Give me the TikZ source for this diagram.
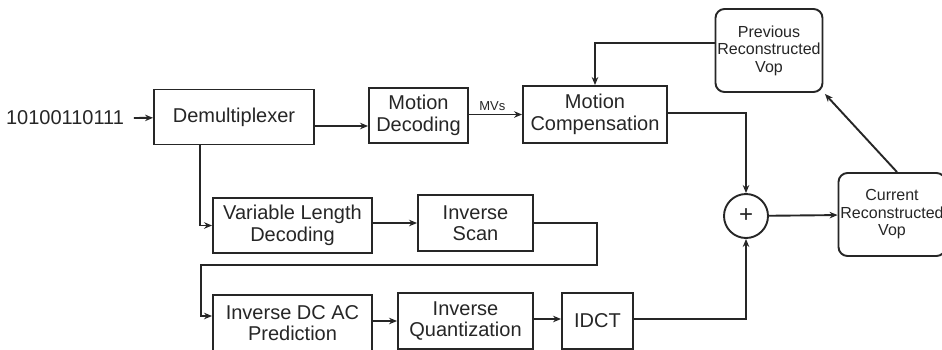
\documentclass[tikz,border=0pt]{standalone}
\usepackage{fontspec}
\setmainfont{Liberation Sans}
\usetikzlibrary{positioning,arrows.meta,calc}

\begin{document}
\begin{tikzpicture}[x=1pt, y=-1pt, line width=1.9pt, color=black!85,
  font=\fontsize{20}{21.5}\selectfont,
  blk/.style={draw, align=center, inner sep=1pt, minimum height=55pt},
  vop/.style={draw, rounded corners=9pt, align=center, inner sep=1pt, minimum width=107pt, minimum height=83pt, font=\fontsize{16}{17.5}\selectfont},
  tr/.style={-{Stealth[length=8pt, width=6.5pt]}}]
\useasboundingbox[fill=white] (0,0) rectangle (942,349);
% top row
\node[inner sep=0pt] (bits) at (65,118) {10100110111};
\node[blk, minimum width=160pt] (demux) at (234,117) {Demultiplexer};
\node[blk, minimum width=99pt] (mdec) at (418.5,115.5) {Motion\\Decoding};
\node[blk, minimum width=144pt, minimum height=57pt] (mcomp) at (595,114.5) {Motion\\Compensation};
\node[vop] (prev) at (769,50.5) {Previous\\Reconstructed\\Vop};
\node[draw, circle, minimum size=44pt, inner sep=0pt, font=\fontsize{24}{24}\selectfont] (plus) at (746,216) {+};
\node[vop] (curr) at (892,214.5) {Current\\Reconstructed\\Vop};
% middle and bottom rows
\node[blk, minimum width=159pt] (vld) at (292.5,225.5) {Variable Length\\Decoding};
\node[blk, minimum width=115pt, minimum height=56pt] (iscan) at (475.5,223) {Inverse\\Scan};
\node[blk, minimum width=159pt, minimum height=56pt] (idcac) at (292.5,323) {Inverse DC AC\\Prediction};
\node[blk, minimum width=135pt, minimum height=56pt] (invq) at (465.5,321) {Inverse\\Quantization};
\node[blk, minimum width=71pt, minimum height=56pt] (idct) at (597.5,321) {IDCT};
% connectors
\coordinate (dout) at ([yshift=-9pt]demux.east);
\coordinate (vout) at ([yshift=2.5pt]vld.east);
\coordinate (pout) at ([yshift=2pt]idcac.east);
\coordinate (qout) at ([yshift=2pt]invq.east);
\coordinate (lpr) at (597,265);
\coordinate (lpl) at (201,265);
\draw[tr] ([xshift=9pt]bits.east) -- (demux);
\draw[tr] (dout) -- (mdec.west |- dout);
\draw[tr] (mdec.east |- mcomp.west) -- node[above, pos=0.44, font=\fontsize{13}{14}\selectfont]{MVs} (mcomp.west);
\draw[tr] ([yshift=7.5pt]prev.west) -| (mcomp.north);
\draw[tr] ([yshift=1.5pt]mcomp.east) -| (plus.north);
\draw[tr] (plus) -- (curr);
\draw[tr] ([xshift=5pt]curr.north) -- ([xshift=1.5pt,yshift=-1pt]prev.south east);
\draw[tr] ([xshift=-34pt]demux.south) |- (vld.west);
\draw[tr] (vout) -- (iscan.west |- vout);
\draw[tr] (iscan.east) -| (lpr) -- (lpl) |- ([yshift=7pt]idcac.west);
\draw[tr] (pout) -- (invq.west |- pout);
\draw[tr] (qout) -- (idct.west |- qout);
\draw[tr] ([yshift=2pt]idct.east) -| (plus.south);
\end{tikzpicture}
\end{document}
